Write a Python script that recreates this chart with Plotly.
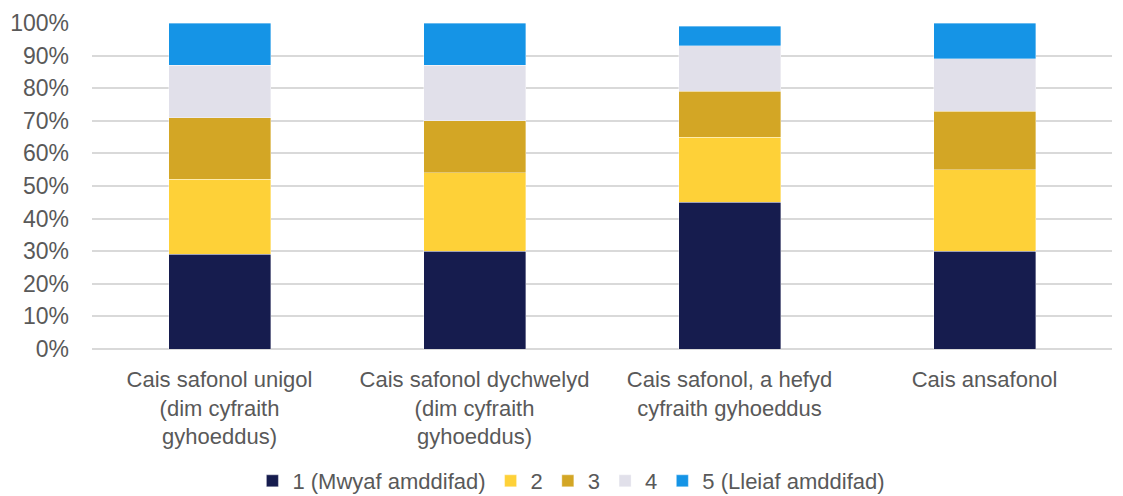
import plotly.graph_objects as go

categories = [
    "Cais safonol unigol<br>(dim cyfraith<br>gyhoeddus)",
    "Cais safonol dychwelyd<br>(dim cyfraith<br>gyhoeddus)",
    "Cais safonol, a hefyd<br>cyfraith gyhoeddus",
    "Cais ansafonol",
]
series_names = ["1 (Mwyaf amddifad)", "2", "3", "4", "5 (Lleiaf amddifad)"]
q1 = [29, 30, 45, 30]
q2 = [23, 24, 20, 25]
q3 = [19, 16, 14, 18]
q4 = [16, 17, 14, 16]
q5 = [13, 13, 6, 11]
colors = ["#161C4E", "#FED138", "#D3A625", "#E1E0EA", "#1594E6"]

fig = go.Figure()
for name, vals, col in zip(series_names, [q1, q2, q3, q4, q5], colors):
    fig.add_trace(go.Bar(
        x=categories, y=vals, name=name,
        marker=dict(color=col, line=dict(color="rgba(255,255,255,0.6)", width=0.6)),
    ))

fig.update_layout(
    barmode="stack",
    bargap=0.6,
    width=1123, height=496,
    margin=dict(l=92, r=11, t=23, b=147, autoexpand=False),
    paper_bgcolor="white", plot_bgcolor="white",
    font=dict(family="Liberation Sans, Arial, sans-serif", size=23, color="#595959"),
    showlegend=True,
    legend=dict(orientation="h", x=0.47, xanchor="center", y=-0.405, yanchor="middle",
                font=dict(size=22, color="#595959"), traceorder="normal",
                itemwidth=30, tracegroupgap=0),
    xaxis=dict(showgrid=False, showline=False, ticks="", ticklabelstandoff=15,
               tickfont=dict(size=22)),
    yaxis=dict(range=[0, 100], dtick=10, ticksuffix="%", showgrid=True,
               gridcolor="#D9D9D9", gridwidth=1.5, zeroline=True, zerolinecolor="#D9D9D9",
               zerolinewidth=1.5, ticklabelstandoff=22),
)

fig.write_html("out.html", config={"displayModeBar": False},
               post_script="document.body.style.margin='0';")
